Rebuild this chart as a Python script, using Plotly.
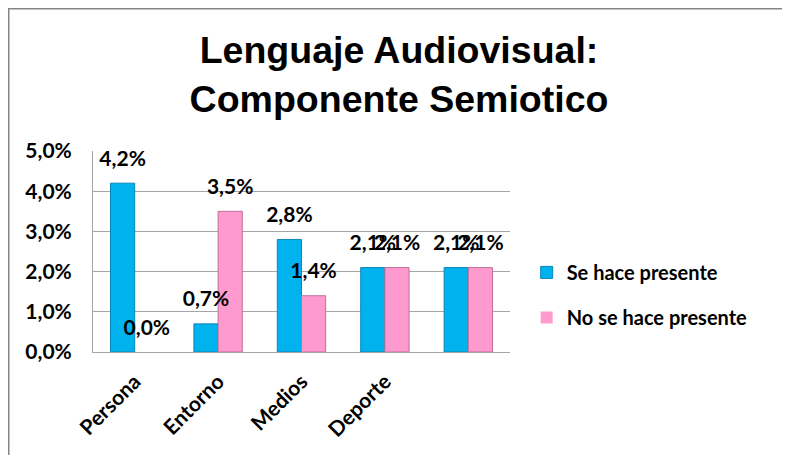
import plotly.graph_objects as go

# data
categorias = ["Persona", "Entorno", "Medios", "Deporte", " "]
se_hace = [0.042, 0.007, 0.028, 0.021, 0.021]
no_se_hace = [0.000, 0.035, 0.014, 0.021, 0.021]
series = ["Se hace presente", "No se hace presente"]

azul = "#00B2EE"
azul_borde = "#0B86B8"
rosa = "#FF9ACF"
rosa_borde = "#C06F9A"

fuente = "Lato"
# page body adds 8px, so the figure is smaller and margins shifted by 8
W, H = 782, 447
L, R, T, B = 85, 280, 143, 103

fig = go.Figure()

# bars (no outline on empty bars)
fig.add_trace(go.Bar(x=categorias, y=se_hace, name=series[0], offsetgroup="a",
                     legendgroup="a",
                     marker=dict(color=azul, line=dict(color=azul_borde,
                                                       width=[1 if v > 0 else 0 for v in se_hace]))))
fig.add_trace(go.Bar(x=categorias, y=no_se_hace, name=series[1], offsetgroup="b",
                     legendgroup="b",
                     marker=dict(color=rosa, line=dict(color=rosa_borde,
                                                       width=[1 if v > 0 else 0 for v in no_se_hace]))))

# data labels
for vals, grp in [(se_hace, "a"), (no_se_hace, "b")]:
    fig.add_trace(go.Scatter(x=categorias, y=vals, mode="markers+text", offsetgroup=grp,
                             texttemplate="%{y:.1%}", textposition="top center",
                             textfont=dict(family=fuente, size=21, color="black", weight="bold"),
                             marker=dict(size=18, opacity=0), showlegend=False,
                             hoverinfo="skip", cliponaxis=False))

fig.update_layout(
    width=W, height=H,
    separators=",.",
    barmode="group", scattermode="group",
    bargap=0.42, bargroupgap=0,
    plot_bgcolor="white", paper_bgcolor="white",
    margin=dict(l=L, r=R, t=T, b=B, autoexpand=False),
    title=dict(text="<b>Lenguaje Audiovisual:<br>Componente Semiotico</b>",
               font=dict(family="Liberation Sans", size=37.5, color="black"),
               x=0.5, xanchor="center", y=1 - 55 / H, yanchor="middle"),
    legend=dict(x=1.04, y=0.284, xanchor="left", yanchor="middle",
                font=dict(family=fuente, size=20, color="black", weight="bold"),
                traceorder="grouped", tracegroupgap=16, itemwidth=30),
    showlegend=True,
)

fig.update_yaxes(range=[0, 0.05], dtick=0.01, tickformat=".1%",
                 showgrid=True, gridcolor="#A6A6A6", gridwidth=1,
                 showline=True, linecolor="#A6A6A6", linewidth=1,
                 ticks="", ticklabelstandoff=16, zeroline=False,
                 tickfont=dict(family=fuente, size=21, color="black", weight="bold"))
fig.update_xaxes(showline=True, linecolor="#A6A6A6", linewidth=1, ticks="",
                 tickangle=-45, ticklabelstandoff=8,
                 categoryorder="array", categoryarray=categorias,
                 tickfont=dict(family=fuente, size=21, color="black", weight="bold"))

# frame lines at top and left of the picture
pw = W - L - R
ph = H - T - B
px0 = (0 - L) / pw
py0 = (H - B - 0) / ph
fig.add_shape(type="line", xref="paper", yref="paper", x0=px0, x1=(W - L) / pw,
              y0=py0, y1=py0, line=dict(color="#858585", width=3))
fig.add_shape(type="line", xref="paper", yref="paper", x0=px0, x1=px0,
              y0=py0, y1=-B / ph, line=dict(color="#858585", width=3))

fig.write_html("out.html")
